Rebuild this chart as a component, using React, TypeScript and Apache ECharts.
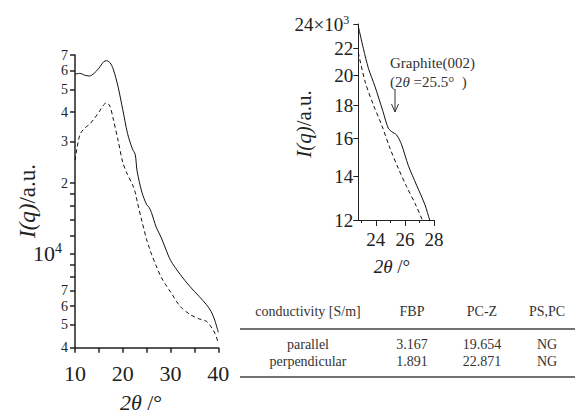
import React, { useEffect, useRef } from 'react';
import * as echarts from 'echarts';

// ---------- data ----------
const mainX = [10, 11, 12, 13, 14, 15, 16, 16.6, 17.3, 18, 19, 20, 21, 22, 22.6, 23, 24, 25, 25.5, 26, 27, 28, 29, 30, 32, 34, 36, 37.5, 38.5, 39.3, 40];
const mainSolid = [58000, 58500, 57500, 57000, 58500, 61500, 65500, 66200, 65000, 61000, 51500, 41000, 32500, 28000, 26500, 22500, 18300, 16200, 15800, 15000, 13000, 11800, 10500, 9400, 8200, 7300, 6600, 6100, 5700, 5200, 4650];
const mainDashed = [25000, 32000, 34200, 35500, 37500, 40000, 43000, 43800, 42500, 37500, 30500, 24500, 21700, 19800, 18300, 16800, 13800, 11500, 10700, 10000, 8900, 8000, 7400, 6900, 6000, 5550, 5300, 5180, 4900, 4600, 4200];

const insetSolidX = [22.8, 23.15, 23.5, 23.95, 24.5, 24.86, 25.1, 25.44, 25.78, 26.23, 26.8, 27.38, 27.7, 27.9];
const insetSolid = [23800, 22000, 20500, 19230, 17600, 16600, 16400, 16200, 15650, 14560, 13580, 12660, 12000, 11600];
const insetDashedX = [22.8, 23.27, 23.84, 24.4, 24.98, 25.55, 26.12, 26.7, 27.2, 27.4];
const insetDashed = [21700, 19560, 18020, 16800, 15460, 14400, 13500, 12720, 12000, 11700];

const mainYTicks = [4000, 5000, 6000, 7000, 8000, 9000, 10000, 12000, 14000, 16000, 18000, 20000, 30000, 40000, 50000, 60000, 70000];
const mainYLabelValues = [4000, 5000, 6000, 7000, 10000, 20000, 30000, 40000, 50000, 60000, 70000];
const mainYLabels = ['4', '5', '6', '7', '10^4', '2', '3', '4', '5', '6', '7'];

const insetYTicks = [12000, 14000, 16000, 18000, 20000, 22000, 24000];
const insetYLabels = ['12', '14', '16', '18', '20', '22', '24×10^3'];

const mainXLabels = [10, 20, 30, 40];
const insetXMajor = [24, 26, 28];
const insetXMinor = [23, 25, 27];

const tableHeader = ['conductivity [S/m]', 'FBP', 'PC-Z', 'PS,PC'];
const tableRows = [
  ['parallel', '3.167', '19.654', 'NG'],
  ['perpendicular', '1.891', '22.871', 'NG'],
];

const FONT = 'Liberation Serif';
const INK = '#222';
const L = (v: number) => Math.log10(v);

function labelFor(values: number[], labels: string[], v: number) {
  for (let i = 0; i < values.length; i++) {
    if (Math.abs(L(values[i]) - v) < 1e-6) return labels[i];
  }
  return '';
}

function supFormat(lbl: string) {
  const idx = lbl.indexOf('^');
  if (idx < 0) return '{n|' + lbl + '}';
  return '{b|' + lbl.slice(0, idx) + '}{s|' + lbl.slice(idx + 1) + '}';
}

export default function App() {
  const ref = useRef<HTMLDivElement>(null);
  useEffect(() => {
    if (!ref.current) return;
    const chart = echarts.init(ref.current, undefined, { renderer: 'svg' });
    const zip = (xs: number[], ys: number[]) => xs.map((x, i) => [x, ys[i]]);
    const axisLineStyle = { color: INK, width: 1.5 };
    const thinLine = { color: INK, width: 1 };

    const graphic: any[] = [];
    const txt = (x: number, y: number, text: string, fontSize: number, extra: any = {}) => ({
      type: 'text', x, y, rotation: extra.rotation || 0,
      style: {
        text, fontSize, fontFamily: FONT, fill: extra.fill || INK,
        textAlign: extra.align || 'center', textVerticalAlign: 'middle',
        rich: extra.rich,
      },
    });
    const richTitle = (fs: number) => ({
      i: { fontSize: fs, fontFamily: FONT, fontStyle: 'italic', fill: INK },
      n: { fontSize: fs, fontFamily: FONT, fill: INK },
    });
    // axis titles
    graphic.push(txt(141, 402, '{i|2θ} {n|/°}', 22, { rich: richTitle(22) }));
    graphic.push(txt(27, 201, '{i|I(q)}{n|/a.u.}', 23, { rich: richTitle(23), rotation: Math.PI / 2 }));
    graphic.push(txt(392, 266, '{i|2θ} {n|/°}', 19, { rich: richTitle(19) }));
    graphic.push(txt(304, 124, '{i|I(q)}{n|/a.u.}', 21, { rich: richTitle(21), rotation: Math.PI / 2 }));
    // annotation
    graphic.push(txt(390, 63, 'Graphite(002)', 15, { align: 'left', fill: '#333' }));
    graphic.push(txt(390, 82, '{n|(2}{i|θ}{n| =25.5°  )}', 15, {
      align: 'left',
      rich: {
        i: { fontSize: 15, fontFamily: FONT, fontStyle: 'italic', fill: '#333' },
        n: { fontSize: 15, fontFamily: FONT, fill: '#333' },
      },
    }));
    graphic.push({ type: 'line', shape: { x1: 395, y1: 89, x2: 395, y2: 112 }, style: { stroke: '#333', lineWidth: 1 } });
    graphic.push({ type: 'polyline', shape: { points: [[391.5, 104], [395, 112], [398.5, 104]] }, style: { stroke: '#333', lineWidth: 1, fill: 'none' } });
    // table
    const colX = [308, 412, 482, 547];
    const rowY = [311, 344, 361];
    tableHeader.forEach((h, i) => graphic.push(txt(colX[i], rowY[0], h, 14, { fill: '#333' })));
    tableRows.forEach((r, ri) => r.forEach((c, ci) => graphic.push(txt(colX[ci], rowY[ri + 1], c, 14, { fill: '#333' }))));
    graphic.push({ type: 'line', shape: { x1: 240, y1: 329, x2: 575, y2: 329 }, style: { stroke: '#444', lineWidth: 1.5 } });
    graphic.push({ type: 'line', shape: { x1: 240, y1: 377, x2: 575, y2: 377 }, style: { stroke: '#444', lineWidth: 1.5 } });

    const supRich = (big: number, small: number, padR: number) => ({
      n: { fontSize: small, fontFamily: FONT, color: INK },
      b: { fontSize: big, fontFamily: FONT, color: INK, lineHeight: big + 2 },
      s: { fontSize: small, fontFamily: FONT, color: INK, verticalAlign: 'top', lineHeight: small + 1, padding: [0, padR, 0, 0] },
    });

    const option: any = {
      animation: false,
      backgroundColor: '#fff',
      textStyle: { fontFamily: FONT },
      grid: [
        { left: 75, top: 55, width: 143.3, height: 292.7 },
        { left: 358.3, top: 24, width: 75.7, height: 196 },
      ],
      xAxis: [
        {
          gridIndex: 0, type: 'value', min: 10, max: 40, interval: 5, position: 'bottom',
          axisLine: { lineStyle: axisLineStyle },
          axisTick: { length: 5, lineStyle: axisLineStyle },
          axisLabel: {
            formatter: (v: number) => (mainXLabels.indexOf(v) >= 0 ? String(v) : ''),
            fontSize: 22, fontFamily: FONT, color: INK, margin: 15,
          },
          splitLine: { show: false },
        },
        {
          gridIndex: 1, type: 'value', min: 22.8, max: 28, position: 'bottom',
          axisLine: { lineStyle: thinLine },
          axisTick: { customValues: insetXMajor, length: 6, lineStyle: thinLine },
          axisLabel: { customValues: insetXMajor, fontSize: 19, fontFamily: FONT, color: INK, margin: 10 },
          splitLine: { show: false },
        },
        {
          gridIndex: 1, type: 'value', min: 22.8, max: 28, position: 'bottom',
          axisLine: { show: false },
          axisTick: { customValues: insetXMinor, length: 3, lineStyle: thinLine },
          axisLabel: { show: false },
          splitLine: { show: false },
        },
      ],
      yAxis: [
        {
          gridIndex: 0, type: 'log', logBase: 10, min: 4000, max: 70000, position: 'left',
          axisLine: { show: true, lineStyle: axisLineStyle },
          axisTick: { show: false }, axisLabel: { show: false }, splitLine: { show: false },
        },
        {
          gridIndex: 0, type: 'value', min: L(4000), max: L(70000), position: 'left',
          axisLine: { show: false },
          axisTick: { show: true, customValues: mainYTicks.map(L), length: 5, lineStyle: axisLineStyle },
          axisLabel: {
            customValues: mainYLabelValues.map(L),
            formatter: (v: number) => supFormat(labelFor(mainYLabelValues, mainYLabels, v)),
            fontSize: 14, fontFamily: FONT, color: INK, margin: 7,
            rich: supRich(22, 14, 6),
          },
          splitLine: { show: false },
        },
        {
          gridIndex: 1, type: 'log', logBase: 10, min: 12000, max: 24000, position: 'left',
          axisLine: { show: true, lineStyle: thinLine },
          axisTick: { show: false }, axisLabel: { show: false }, splitLine: { show: false },
        },
        {
          gridIndex: 1, type: 'value', min: L(12000), max: L(24000), position: 'left',
          axisLine: { show: false },
          axisTick: { show: true, customValues: insetYTicks.map(L), length: 5, lineStyle: thinLine },
          axisLabel: {
            customValues: insetYTicks.map(L),
            formatter: (v: number) => supFormat(labelFor(insetYTicks, insetYLabels, v)),
            fontSize: 19, fontFamily: FONT, color: INK, margin: 5,
            rich: { ...supRich(19, 12, 4), n: { fontSize: 19, fontFamily: FONT, color: INK } },
          },
          splitLine: { show: false },
        },
      ],
      series: [
        {
          type: 'line', xAxisIndex: 0, yAxisIndex: 0, data: zip(mainX, mainSolid),
          symbol: 'none', smooth: 0.3, lineStyle: { color: '#111', width: 1 },
        },
        {
          type: 'line', xAxisIndex: 0, yAxisIndex: 0, data: zip(mainX, mainDashed),
          symbol: 'none', smooth: 0.3, lineStyle: { color: '#111', width: 1, type: [4, 3] },
        },
        {
          type: 'line', xAxisIndex: 1, yAxisIndex: 2, data: zip(insetSolidX, insetSolid),
          symbol: 'none', smooth: 0.3, clip: true, lineStyle: { color: '#111', width: 1 },
        },
        {
          type: 'line', xAxisIndex: 1, yAxisIndex: 2, data: zip(insetDashedX, insetDashed),
          symbol: 'none', smooth: 0.3, clip: true, lineStyle: { color: '#111', width: 1, type: [4, 3] },
        },
      ],
      graphic,
    };
    chart.setOption(option);
    return () => chart.dispose();
  }, []);
  return (
    <div
      ref={ref}
      style={{ position: 'absolute', left: 0, top: 0, width: 575, height: 413, background: '#fff' }}
    />
  );
}
